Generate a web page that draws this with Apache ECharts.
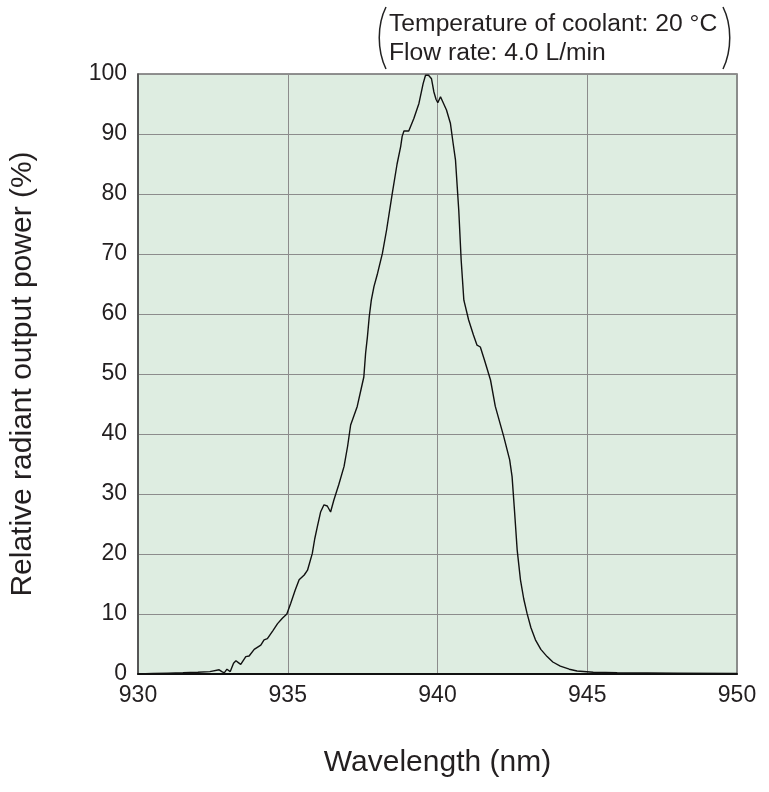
<!DOCTYPE html>
<html>
<head>
<meta charset="utf-8">
<script src="https://cdn.jsdelivr.net/npm/echarts@6/dist/echarts.min.js"></script>
<style>
html,body{margin:0;padding:0;background:#fff;}
#chart{width:769px;height:792px;}
</style>
</head>
<body>
<div id="chart"></div>
<script>
// Data
const wavelengths = [930.0,930.5,931.0,931.5,932.0,932.4,932.71,932.8,932.88,932.97,933.08,933.19,933.27,933.35,933.43,933.6,933.71,933.88,934.1,934.21,934.32,934.5,934.66,934.82,934.97,935.1,935.25,935.38,935.43,935.55,935.66,935.82,935.9,935.99,936.1,936.21,936.32,936.43,936.54,936.7,936.88,937.0,937.1,937.16,937.32,937.45,937.54,937.6,937.66,937.72,937.79,937.88,938.0,938.16,938.3,938.49,938.65,938.77,938.82,938.88,938.93,939.04,939.21,939.38,939.52,939.6,939.7,939.8,939.88,939.95,940.01,940.1,940.16,940.3,940.43,940.52,940.6,940.71,940.79,940.88,941.04,941.2,941.32,941.43,941.57,941.77,941.93,942.21,942.41,942.49,942.57,942.66,942.77,942.88,942.99,943.12,943.27,943.45,943.66,943.85,944.1,944.4,944.66,945.2,946.0,948.0,950.0];
const powerPct = [0.0,0.1,0.15,0.2,0.3,0.4,0.7,0.4,0.2,0.8,0.4,1.8,2.2,1.9,1.6,2.9,3.0,4.1,4.8,5.7,5.9,7.2,8.4,9.3,10.0,11.8,14.0,15.7,15.9,16.5,17.3,20.1,22.5,24.6,27.05,28.2,28.0,27.0,29.0,31.5,34.6,38.0,41.5,41.8,44.6,47.5,49.5,53.5,56.2,59.5,62.3,64.6,66.8,70.1,74.0,80.1,85.0,87.9,89.6,90.5,90.7,90.5,92.6,95.1,98.4,99.8,99.8,99.2,97.0,95.8,95.2,96.2,96.2,94.0,91.8,88.5,85.7,77.3,69.0,62.3,59.0,56.5,54.8,54.5,52.3,49.0,44.6,39.6,35.7,32.9,27.3,20.7,15.7,12.5,10.1,7.7,5.7,4.1,2.9,2.0,1.3,0.8,0.5,0.3,0.2,0.15,0.1];
const xTicks = [930, 935, 940, 945, 950];
const yTicks = [0, 10, 20, 30, 40, 50, 60, 70, 80, 90, 100];
const noteLines = ['Temperature of coolant: 20 °C', 'Flow rate: 4.0 L/min'];
const xTitle = 'Wavelength (nm)';
const yTitle = 'Relative radiant output power (%)';

const FONT = '"Liberation Sans", Arial, Helvetica, sans-serif';
const TXT = '#231f20';

const chart = echarts.init(document.getElementById('chart'), null, {renderer: 'canvas'});
const seriesData = wavelengths.map((w, i) => [w, powerPct[i]]);

chart.setOption({
  animation: false,
  backgroundColor: '#ffffff',
  grid: {
    left: 137, top: 74, width: 600, height: 600,
    show: true, backgroundColor: '#deede1', borderColor: '#6e6e6e', borderWidth: 1.5
  },
  xAxis: {
    type: 'value', min: xTicks[0], max: xTicks[xTicks.length - 1], interval: 5,
    name: xTitle, nameLocation: 'middle', nameGap: 74,
    nameTextStyle: {fontFamily: FONT, fontSize: 30, color: TXT},
    axisLine: {show: true, onZero: false, lineStyle: {color: '#111', width: 2}},
    axisTick: {show: false},
    axisLabel: {fontFamily: FONT, fontSize: 23, color: TXT, margin: 10},
    splitLine: {show: true, lineStyle: {color: '#8c8c8c', width: 1}}
  },
  yAxis: {
    type: 'value', min: yTicks[0], max: yTicks[yTicks.length - 1], interval: 10,
    name: yTitle, nameLocation: 'middle', nameGap: 100,
    nameTextStyle: {fontFamily: FONT, fontSize: 30, color: TXT},
    axisLine: {show: true, onZero: false, lineStyle: {color: '#444', width: 1.5}},
    axisTick: {show: false},
    axisLabel: {fontFamily: FONT, fontSize: 23, color: TXT, margin: 11},
    splitLine: {show: true, lineStyle: {color: '#8c8c8c', width: 1}}
  },
  series: [{
    type: 'line', data: seriesData, showSymbol: false, symbol: 'none',
    lineStyle: {color: '#111', width: 1.4}, z: 5
  }],
  graphic: [
    {type: 'text', style: {x: 389, y: 24, text: noteLines[0], font: '24.7px ' + FONT, fill: TXT, verticalAlign: 'middle', textVerticalAlign: 'middle'}},
    {type: 'text', style: {x: 389, y: 53, text: noteLines[1], font: '24.7px ' + FONT, fill: TXT, verticalAlign: 'middle', textVerticalAlign: 'middle'}},
    {type: 'bezierCurve', shape: {x1: 386, y1: 7, cpx1: 377, cpy1: 25, cpx2: 377, cpy2: 50, x2: 386, y2: 69},
      style: {stroke: '#222', lineWidth: 1.5, fill: null}},
    {type: 'bezierCurve', shape: {x1: 723, y1: 7, cpx1: 732, cpy1: 25, cpx2: 732, cpy2: 50, x2: 723, y2: 69},
      style: {stroke: '#222', lineWidth: 1.5, fill: null}}
  ]
});
</script>
</body>
</html>
